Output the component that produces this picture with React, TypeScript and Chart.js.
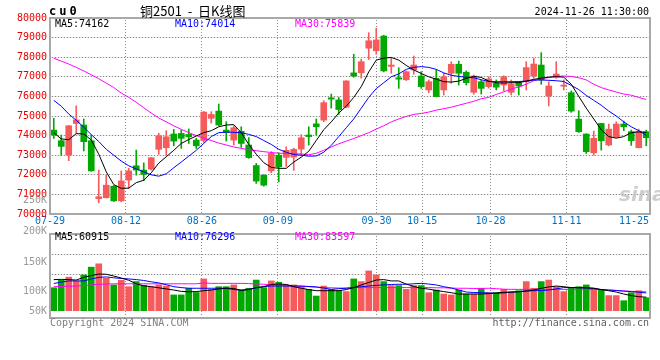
import React, { useEffect, useRef } from 'react';
import { Chart, registerables } from 'chart.js';

Chart.register(...registerables);

// ---------- data ----------
const dates = [
  '07-29', '07-30', '07-31',
  '08-01', '08-02', '08-05', '08-06', '08-07', '08-08', '08-09', '08-12', '08-13', '08-14', '08-15', '08-16',
  '08-19', '08-20', '08-21', '08-22', '08-23', '08-26', '08-27', '08-28', '08-29', '08-30',
  '09-02', '09-03', '09-04', '09-05', '09-06', '09-09', '09-10', '09-11', '09-12', '09-13',
  '09-18', '09-19', '09-20', '09-23', '09-24', '09-25', '09-26', '09-27', '09-30',
  '10-08', '10-09', '10-10', '10-11', '10-14', '10-15', '10-16', '10-17', '10-18', '10-21', '10-22',
  '10-23', '10-24', '10-25', '10-28', '10-29', '10-30', '10-31',
  '11-01', '11-04', '11-05', '11-06', '11-07', '11-08', '11-11', '11-12', '11-13', '11-14', '11-15',
  '11-18', '11-19', '11-20', '11-21', '11-22', '11-25', '11-26',
];
const labeledDates = ['07-29', '08-12', '08-26', '09-09', '09-30', '10-15', '10-28', '11-11', '11-25'];

const opens = [
  74280, 73740, 73010, 74620, 74540, 73740, 70780, 70830, 71420, 70670,
  71730, 72460, 72240, 72290, 73300, 73380, 74080, 74110, 74060, 73770,
  73750, 74880, 75250, 74280, 73770, 74220, 73520, 72470, 71980, 72200,
  73000, 72890, 72900, 73310, 74030, 74600, 74790, 75930, 75820, 75450,
  77200, 77200, 78460, 78330, 79080, 77530, 76950, 76850, 77350, 77040,
  76330, 76920, 76330, 77180, 77640, 77230, 76210, 76750, 76500, 76670,
  76580, 76210, 76700, 76750, 77040, 77600, 76020, 76980, 76520, 76190,
  74840, 74080, 73120, 74620, 73520, 73940, 74590, 74200, 73380, 74200,
];
const highs = [
  74880, 74030, 74520, 75520, 74850, 74030, 72240, 71980, 71450, 72200,
  72330, 73260, 72610, 72880, 74120, 74250, 74320, 74280, 74340, 73860,
  75230, 75220, 75610, 74710, 74500, 74450, 73900, 72580, 72000, 73180,
  73120, 73430, 73360, 74050, 74450, 74850, 75780, 76120, 75950, 76800,
  78150, 77900, 79250, 79480, 79120, 77980, 77460, 77300, 78060, 77260,
  76840, 77350, 77180, 77770, 77800, 77300, 77090, 76840, 77000, 76840,
  77050, 76840, 76750, 77770, 77950, 78230, 76750, 77770, 76840, 76280,
  75270, 74090, 74230, 74630, 74590, 74700, 74740, 74280, 74330, 74280,
];
const lows = [
  73850, 73000, 72720, 74110, 73220, 72180, 70570, 70820, 70640, 70620,
  71300, 71980, 71700, 72240, 73040, 72980, 73480, 73350, 73600, 73340,
  73650, 74640, 74500, 73720, 73520, 73400, 72840, 71560, 71420, 72100,
  71640, 72420, 72220, 73000, 73520, 74030, 74710, 75400, 75080, 75420,
  76980, 76930, 77880, 78150, 77250, 77180, 76410, 76810, 77130, 76410,
  76190, 75980, 76070, 76670, 76580, 76580, 76110, 76120, 76420, 76330,
  76280, 76070, 76070, 76330, 76920, 76620, 75510, 76920, 76330, 75190,
  74160, 73090, 73000, 73260, 73480, 73900, 74250, 73500, 73380, 73480,
];
const closes = [
  74030, 73450, 74500, 74800, 73690, 72200, 70880, 71470, 70670, 71690,
  72200, 72240, 72020, 72870, 73990, 73940, 73720, 73860, 73940, 73480,
  75200, 75080, 74540, 74160, 74400, 73600, 72880, 71680, 71470, 73090,
  72410, 73250, 73300, 73890, 73950, 74450, 75680, 75860, 75330, 76790,
  77040, 77770, 78840, 78880, 77300, 77600, 76880, 77260, 77600, 76500,
  76750, 75990, 77000, 77640, 77180, 76700, 77040, 76410, 76890, 76470,
  77000, 76630, 76530, 77470, 77650, 76840, 76530, 77140, 76580, 75250,
  74200, 73180, 73860, 73740, 74330, 74590, 74450, 73740, 74230, 73890,
];

const ma5 = [
  74150, 73830, 73790, 74100, 74080, 73780, 73050, 72150, 71500, 71310,
  71320, 71600, 71720, 72100, 72600, 72920, 73250, 73600, 73800, 73980,
  74150, 74250, 74450, 74540, 74560, 74150, 73550, 73050, 72620, 72380,
  72330, 72330, 72650, 72900, 73200, 73750, 74300, 74700, 75150, 75500,
  75950, 76500, 77250, 77850, 77950, 77990, 77850, 77580, 77350, 77170,
  77000, 76880, 76750, 76730, 76780, 76920, 77020, 76970, 76780, 76700,
  76680, 76700, 76700, 76780, 76870, 76930, 76980, 77010, 76980, 76620,
  76000, 75400, 74850, 74300, 73950, 73870, 73950, 74150, 74190, 74162,
];
const ma10 = [
  75800, 75500, 75100, 74780, 74430, 74050, 73700, 73300, 73000, 72700,
  72460, 72300, 72150, 72000, 71930, 72050, 72360, 72650, 72950, 73250,
  73600, 73950, 74150, 74180, 74170, 74146, 74063, 73950, 73750, 73550,
  73300, 73150, 73030, 73000, 72950, 72960, 73150, 73500, 73950, 74400,
  74850, 75400, 75950, 76400, 76700, 77000, 77150, 77380, 77480, 77520,
  77480, 77380, 77200, 77080, 77020, 76980, 76950, 76850, 76760, 76750,
  76750, 76750, 76760, 76780, 76830, 76840, 76820, 76800, 76760, 76560,
  76350, 76050, 75800, 75550, 75250, 75000, 74700, 74450, 74250, 74014,
];
const ma30 = [
  77950, 77800, 77650, 77480, 77300, 77100, 76900, 76680, 76450, 76170,
  75950, 75700, 75420, 75150, 74900, 74700, 74500, 74320, 74150, 74000,
  73870, 73750, 73620, 73520, 73420, 73350, 73280, 73230, 73180, 73140,
  73100, 73090, 73080, 73060, 73020, 73100, 73250, 73420, 73580, 73720,
  73850, 74000, 74150, 74330, 74500, 74700, 74850, 74980, 75080, 75130,
  75200, 75300, 75370, 75450, 75550, 75650, 75750, 75880, 75950, 76100,
  76230, 76380, 76480, 76620, 76800, 76900, 76970, 77020, 77040, 77020,
  76950, 76840, 76620, 76450, 76330, 76220, 76120, 76060, 75950, 75839,
];

const volumes = [
  103500, 138000, 151000, 134000, 161000, 196000, 211000, 146000, 116000, 137000,
  108000, 131000, 114000, 108000, 116000, 111000, 71000, 71000, 101000, 82000,
  143000, 96000, 108000, 108000, 116000, 93000, 101000, 138000, 104000, 134000,
  128000, 116000, 116000, 108000, 96000, 66000, 111000, 96000, 90000, 86000,
  143000, 131000, 179000, 161000, 131000, 113000, 113000, 96000, 113000, 113000,
  81000, 93000, 75000, 71000, 93000, 75000, 75000, 101000, 81000, 81000,
  96000, 86000, 90000, 131000, 101000, 131000, 138000, 108000, 86000, 101000,
  108000, 116000, 101000, 93000, 68000, 68000, 45000, 81000, 90000, 58500,
];
const volMa5 = [
  140000, 141000, 140000, 138000, 150000, 158000, 165000, 164000, 156000, 147000,
  137000, 121000, 112000, 108000, 103000, 98000, 93000, 87000, 85000, 86000,
  90000, 93000, 98000, 101000, 100000, 91000, 95000, 104000, 108000, 118000,
  120000, 118000, 108000, 101000, 95000, 90000, 90000, 90000, 90000, 95000,
  104000, 116000, 127000, 138000, 140000, 134000, 134000, 120000, 109000, 101000,
  97000, 91000, 86000, 81000, 75000, 75000, 75000, 75000, 77000, 80000,
  83000, 83000, 85000, 88000, 93000, 101000, 107000, 111000, 108000, 104000,
  103000, 103000, 101000, 95000, 90000, 84000, 75000, 68000, 63000, 60915,
];
const volMa10 = [
  122000, 129000, 134000, 134000, 134000, 143000, 150000, 152000, 148000, 145000,
  143000, 140000, 136000, 130000, 125000, 117000, 108000, 104000, 101000, 101000,
  101000, 101000, 101000, 101000, 95000, 93000, 97000, 102000, 109000, 111000,
  111000, 111000, 111000, 111000, 109000, 107000, 102000, 96000, 99000, 101000,
  104000, 108000, 111000, 114000, 116000, 118000, 119000, 119000, 121000, 123000,
  120000, 116000, 108000, 102000, 93000, 84000, 82000, 81000, 80000, 78000,
  80000, 84000, 86000, 89000, 90000, 91000, 93000, 98000, 104000, 104000,
  104000, 102000, 101000, 95000, 93000, 91000, 88000, 86000, 83000, 80000,
];
const volMa30 = [
  108000, 109000, 110000, 111000, 113000, 116000, 119000, 120000, 121000, 121000,
  121000, 121000, 121000, 121000, 121000, 121000, 121000, 121000, 121000, 121000,
  125000, 123000, 123000, 123000, 123000, 123000, 122000, 120000, 119000, 117000,
  116000, 114000, 112000, 110000, 108000, 106000, 104000, 103000, 102000, 102000,
  104000, 104000, 104000, 104000, 104000, 104000, 104000, 104000, 104000, 104000,
  104000, 103000, 103000, 102000, 101000, 101000, 100000, 100000, 101000, 99000,
  97000, 96000, 96000, 96000, 96000, 96000, 96000, 96000, 96000, 96000,
  96000, 96000, 96000, 95000, 93000, 91000, 89000, 87000, 86000, 85000,
];

// axis settings
const priceMin = 70000;
const priceMax = 80000;
const priceStep = 1000;
const volMin = -32850;
const volMax = 345150;
const volLabelTicks = [
  { value: 498150, label: '250K' },
  { value: 358650, label: '200K' },
  { value: 219150, label: '150K' },
  { value: 88650, label: '100K' },
  { value: -1350, label: '50K' },
];
const volGridTicks = [252900, 162900];

// ---------- styles ----------
const UP = '#f65b5b';
const DOWN = '#00a800';
const GRID = '#8c8c8c';
const GRID_SOFT = '#e4e4e4';
const FONT = '"DejaVu Sans Mono", monospace';

const candleColors = closes.map((c, i) => (c >= opens[i] ? UP : DOWN));
const labeledIdx = dates.map((d, i) => (labeledDates.includes(d) ? i : -1)).filter((i) => i >= 0);

const priceGridValues: number[] = [];
for (let v = priceMin + priceStep; v < priceMax; v += priceStep) priceGridValues.push(v);

const boxPlugin = {
  id: 'boxFrame',
  afterDraw(chart: any) {
    const { ctx, chartArea: a } = chart;
    ctx.save();
    ctx.strokeStyle = '#a8a8a8';
    ctx.lineWidth = 2;
    ctx.strokeRect(a.left, a.top, a.right - a.left, a.bottom - a.top);
    ctx.restore();
  },
};

// pixel row of a value on a vertical linear scale
function rowOf(ys: any, v: number): number {
  let p = ys.getPixelForValue(v);
  if (!Number.isFinite(p)) {
    p = ys.top + ((ys.max - v) / (ys.max - ys.min)) * (ys.bottom - ys.top);
  }
  return Math.round(p - 0.5);
}

// dotted grid drawn from the chart's own scales (1px dots every 3px)
function makeDottedGrid(yScaleId: string, yValues: number[]) {
  return {
    id: 'dottedGrid',
    beforeDatasetsDraw(chart: any) {
      const ctx = chart.ctx;
      const a = chart.chartArea;
      const xs = chart.scales['xd'];
      const ys = chart.scales[yScaleId];
      const left = Math.round(a.left);
      const right = Math.round(a.right);
      const top = Math.round(a.top);
      const bottom = Math.round(a.bottom);
      ctx.save();
      ctx.fillStyle = GRID;
      const inner = labeledIdx.slice(1, -1);
      for (let k = 0; k < inner.length; k++) {
        const px = Math.round(xs.getPixelForValue(inner[k]) - 0.5);
        for (let y = top + 2; y < bottom - 1; y += 3) ctx.fillRect(px, y, 1, 1);
      }
      for (let k = 0; k < yValues.length; k++) {
        const py = rowOf(ys, yValues[k]);
        for (let x = left + 2; x < right - 1; x += 3) ctx.fillRect(x, py, 1, 1);
      }
      ctx.restore();
    },
  };
}

function xScales(showLabels: boolean, height: number) {
  return {
    x: {
      type: 'category',
      offset: true,
      display: false,
    },
    xd: {
      type: 'linear',
      position: 'bottom',
      min: 0,
      max: dates.length - 1,
      offset: false,
      afterBuildTicks: (s: any) => {
        const unit = s.width > 0 ? s.width / (s.max - s.min) : 7.6;
        const halfLabel = 16 / unit;
        s.ticks = labeledIdx.map((i) => ({ value: Math.min(i, s.max - halfLabel) }));
      },
      grid: { display: false, drawTicks: false },
      border: { display: false },
      ticks: {
        display: showLabels,
        autoSkip: false,
        maxRotation: 0,
        minRotation: 0,
        padding: 1,
        color: '#0070c0',
        font: { family: FONT, size: 10 },
        callback: (_v: any, i: number) => dates[labeledIdx[i]],
      },
      afterFit: (s: any) => {
        s.height = height;
      },
    },
  };
}

function lineDs(label: string, data: number[], color: string) {
  return {
    type: 'line',
    label,
    data,
    borderColor: color,
    borderWidth: 1,
    pointRadius: 0,
    tension: 0,
    fill: false,
    order: 0,
  };
}

export default function App() {
  const mainRef = useRef<HTMLCanvasElement>(null);
  const volRef = useRef<HTMLCanvasElement>(null);

  useEffect(() => {
    Chart.defaults.font.family = FONT;
    const main = new Chart(mainRef.current as HTMLCanvasElement, {
      type: 'bar',
      data: {
        labels: dates,
        datasets: [
          lineDs('MA5', ma5, '#000000'),
          lineDs('MA10', ma10, '#0000ff'),
          lineDs('MA30', ma30, '#ff00ff'),
          {
            type: 'bar',
            label: 'body',
            data: opens.map((o, i) => [o, closes[i]]),
            backgroundColor: candleColors,
            barThickness: 6,
            minBarLength: 1,
            grouped: false,
            order: 1,
          },
          {
            type: 'bar',
            label: 'wick',
            data: lows.map((l, i) => [l, highs[i]]),
            backgroundColor: candleColors,
            barThickness: 1,
            grouped: false,
            order: 2,
          },
        ],
      } as any,
      options: {
        responsive: false,
        animation: false,
        events: [],
        layout: { padding: { top: 18, right: 10, left: 0, bottom: 0 } },
        plugins: { legend: { display: false }, tooltip: { enabled: false } },
        scales: {
          ...xScales(true, 18),
          y: {
            type: 'linear',
            min: priceMin,
            max: priceMax,
            grid: { display: true, drawTicks: false, drawOnChartArea: true, lineWidth: 1, color: GRID_SOFT },
            border: { display: false },
            ticks: {
              stepSize: priceStep,
              autoSkip: false,
              padding: 3,
              color: '#e80000',
              font: { family: FONT, size: 10 },
              callback: (v: any) => String(v),
            },
            afterFit: (s: any) => {
              s.width = 50;
            },
          },
        },
      } as any,
      plugins: [makeDottedGrid('y', priceGridValues), boxPlugin],
    });

    const vol = new Chart(volRef.current as HTMLCanvasElement, {
      type: 'bar',
      data: {
        labels: dates,
        datasets: [
          lineDs('MA5', volMa5, '#000000'),
          lineDs('MA10', volMa10, '#0000ff'),
          lineDs('MA30', volMa30, '#ff00ff'),
          {
            type: 'bar',
            label: 'volume',
            data: volumes,
            backgroundColor: candleColors,
            barThickness: 6,
            grouped: false,
            order: 1,
          },
        ],
      } as any,
      options: {
        responsive: false,
        animation: false,
        events: [],
        layout: { padding: { top: 44, right: 10, left: 0, bottom: 0 } },
        plugins: { legend: { display: false }, tooltip: { enabled: false } },
        scales: {
          ...xScales(false, 22),
          y: {
            type: 'linear',
            position: 'left',
            min: volMin,
            max: volMax,
            afterBuildTicks: (s: any) => {
              s.ticks = volLabelTicks.map((t) => ({ value: t.value }));
            },
            grid: { display: false, drawTicks: false },
            border: { display: false },
            ticks: {
              autoSkip: false,
              padding: 3,
              color: '#999999',
              font: { family: FONT, size: 10 },
              callback: (v: any) => {
                const t = volLabelTicks.find((x) => x.value === v);
                return t ? t.label : '';
              },
            },
            afterFit: (s: any) => {
              s.width = 50;
            },
          },
          yGrid: {
            type: 'linear',
            position: 'right',
            min: volMin,
            max: volMax,
            afterBuildTicks: (s: any) => {
              s.ticks = volGridTicks.map((v) => ({ value: v }));
            },
            grid: { display: true, drawTicks: false, drawOnChartArea: true, lineWidth: 1, color: GRID_SOFT },
            border: { display: false },
            ticks: { display: false },
            afterFit: (s: any) => {
              s.width = 0;
            },
          },
        },
      } as any,
      plugins: [makeDottedGrid('y', volGridTicks), boxPlugin],
    });

    return () => {
      main.destroy();
      vol.destroy();
    };
  }, []);

  const txt = (style: React.CSSProperties): React.CSSProperties => ({
    position: 'absolute',
    fontFamily: FONT,
    fontSize: 10,
    lineHeight: '12px',
    whiteSpace: 'pre',
    ...style,
  });

  return (
    <div
      style={{
        position: 'fixed',
        left: 0,
        top: 0,
        width: 660,
        height: 360,
        background: '#ffffff',
        overflow: 'hidden',
      }}
    >
      <canvas ref={mainRef} width={660} height={232} style={{ position: 'absolute', left: 0, top: 0 }} />
      <canvas ref={volRef} width={660} height={150} style={{ position: 'absolute', left: 0, top: 190 }} />

      <span style={txt({ left: 49, top: 4, fontSize: 12, lineHeight: '14px', fontWeight: 'bold', letterSpacing: 3, color: '#000' })}>
        cu0
      </span>
      <span
        style={txt({
          left: 140,
          top: 3,
          fontSize: 13,
          lineHeight: '16px',
          fontFamily: '"Noto Sans CJK SC", sans-serif',
          color: '#000',
        })}
      >
        {'铜2501  -  日K线图'}
      </span>
      <span style={txt({ right: 11, top: 6, color: '#000' })}>2024-11-26 11:30:00</span>

      <span style={txt({ left: 55, top: 18, color: '#000' })}>MA5:74162</span>
      <span style={txt({ left: 175, top: 18, color: '#0000ff' })}>MA10:74014</span>
      <span style={txt({ left: 295, top: 18, color: '#ff00ff' })}>MA30:75839</span>

      <span style={txt({ left: 55, top: 231, color: '#000' })}>MA5:60915</span>
      <span style={txt({ left: 175, top: 231, color: '#0000ff' })}>MA10:76296</span>
      <span style={txt({ left: 295, top: 231, color: '#ff00ff' })}>MA30:83597</span>

      <span style={txt({ left: 50, top: 317, color: '#808080' })}>Copyright 2024 SINA.COM</span>
      <span style={txt({ right: 11, top: 317, color: '#606060' })}>http://finance.sina.com.cn</span>

      <span
        style={{
          position: 'absolute',
          left: 619,
          top: 183,
          fontFamily: '"DejaVu Sans", sans-serif',
          fontStyle: 'italic',
          fontWeight: 'bold',
          fontSize: 20,
          lineHeight: '22px',
          color: 'rgba(190,190,190,0.75)',
        }}
      >
        sina
      </span>
    </div>
  );
}
